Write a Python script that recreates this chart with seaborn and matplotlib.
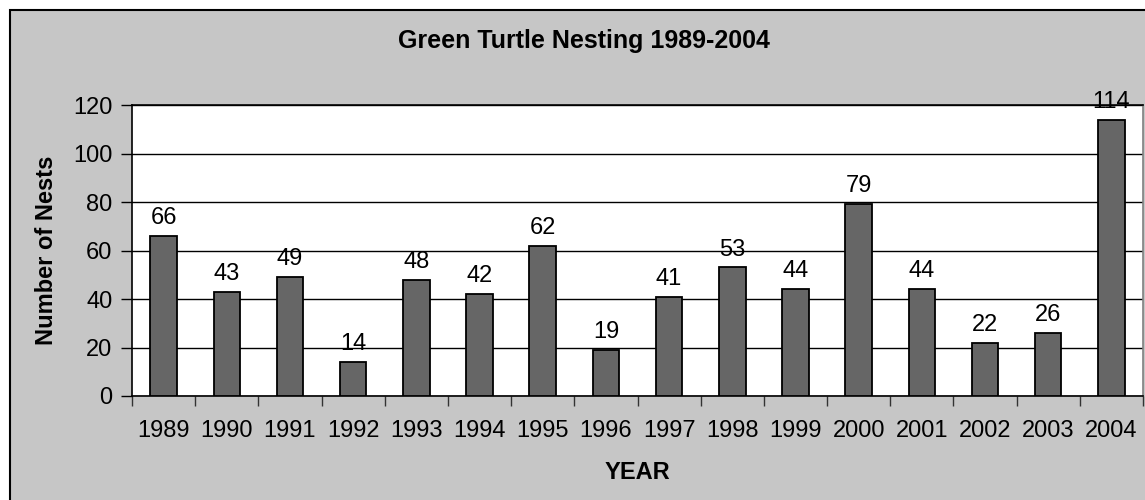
import matplotlib
matplotlib.use("Agg")
import matplotlib.pyplot as plt
import matplotlib.patches as mpatches
from matplotlib.ticker import MultipleLocator, FixedLocator
import pandas as pd
import seaborn as sns

years = ["1989", "1990", "1991", "1992", "1993", "1994", "1995", "1996",
         "1997", "1998", "1999", "2000", "2001", "2002", "2003", "2004"]
nests = [66, 43, 49, 14, 48, 42, 62, 19, 41, 53, 44, 79, 44, 22, 26, 114]

plt.rcParams["font.family"] = ["Liberation Sans", "DejaVu Sans"]

W, H = 1145, 500
fig = plt.figure(figsize=(W / 100, H / 100), dpi=100, facecolor="white")

# chart area panel with its border
panel = mpatches.Rectangle((10 / W, -0.2), 1.2, (H - 10) / H + 0.2,
                           transform=fig.transFigure, facecolor="#C6C6C6",
                           edgecolor="black", linewidth=1.5, zorder=-10)
fig.patches.append(panel)

ax = fig.add_axes([132 / W, 1 - 396 / H, (1143 - 132) / W, (396 - 105) / H])
ax.set_facecolor("white")

df = pd.DataFrame({"year": years, "nests": nests})
sns.barplot(data=df, x="year", y="nests", color="#666666", saturation=1,
            width=0.42, edgecolor="black", linewidth=1.3, ax=ax, zorder=3)

ax.set_ylim(0, 120)
ax.set_xlim(-0.5, len(years) - 0.5)
ax.yaxis.set_major_locator(MultipleLocator(20))
ax.grid(axis="y", color="black", linewidth=1.0, zorder=0)
ax.set_axisbelow(True)

# category ticks sit between the bars
ax.xaxis.set_minor_locator(FixedLocator([i - 0.5 for i in range(len(years) + 1)]))
ax.tick_params(axis="x", which="major", length=0, pad=17, labelsize=17)
ax.tick_params(axis="x", which="minor", length=7, width=1, color="#333333", direction="out")
ax.tick_params(axis="y", length=8, width=1, pad=6, labelsize=17, direction="out")

for side in ["left", "bottom", "top"]:
    ax.spines[side].set_color("black")
    ax.spines[side].set_linewidth(1.2)
ax.spines["right"].set_color("#808080")
ax.spines["right"].set_linewidth(1.2)

ax.bar_label(ax.containers[0], labels=[str(v) for v in nests], padding=5,
             fontsize=17, clip_on=False)

ax.set_xlabel("YEAR", fontsize=17, fontweight="bold", labelpad=14)
ax.set_ylabel("Number of Nests", fontsize=17, fontweight="bold", labelpad=11)
fig.text(584 / W, 1 - 41 / H, "Green Turtle Nesting 1989-2004", ha="center",
         va="center", fontsize=18, fontweight="bold")

fig.savefig("out.png", dpi=100, facecolor=fig.get_facecolor())
